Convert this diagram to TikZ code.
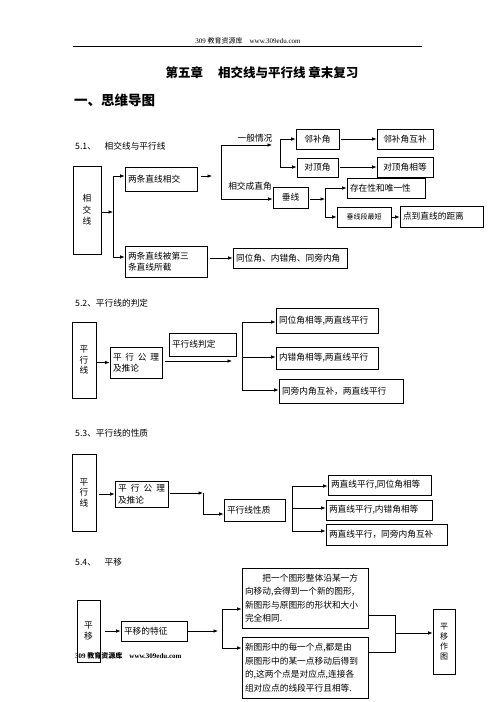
\documentclass[tikz,border=0pt]{standalone}
\usepackage{fontspec}
\setmainfont{Liberation Serif}
\newfontfamily\cjk{Noto Sans CJK SC}
\usetikzlibrary{arrows.meta}
\newcommand\mybox[7][]{%
  \pgfmathsetmacro\bxw{#5-#3}%
  \pgfmathsetmacro\bxh{#6-#4}%
  \pgfmathsetmacro\bxt{#5-#3-6}%
  \node[bx,minimum width=\bxw pt,minimum height=\bxh pt,text width=\bxt pt,#1] (#2) at ({(#3+#5)/2},{(#4+#6)/2}) {#7};}
\begin{document}
\begin{tikzpicture}[x=1pt,y=-1pt,
  bx/.style={draw,line width=0.75pt,inner xsep=3pt,inner ysep=0pt,align=left,
    font=\cjk\fontsize{8.7}{11.5}\selectfont},
  vbx/.style={align=center,font=\cjk\fontsize{8.7}{10.5}\selectfont},
  arr/.style={-{Latex[length=4.5pt,width=3.6pt]},line width=0.7pt},
  ln/.style={line width=0.7pt},
  lab/.style={font=\cjk\fontsize{8.7}{11}\selectfont,inner sep=0pt},
  hdr/.style={font=\fontsize{7}{8}\selectfont,inner sep=0pt}]
\useasboundingbox (0,0) rectangle (496,702);
\fill[white] (0,0) rectangle (496,702);

% header
\node[hdr] (hdr) at (248,41) {309 {\cjk 教育资源库}\quad www.309edu.com};
\draw[line width=0.8pt] (73,46) -- (422,46);
\node[font=\cjk\bfseries\fontsize{12.5}{14}\selectfont,inner sep=0pt] (title) at (262,73) {第五章\hspace{1.2em}相交线与平行线 章末复习};
\node[anchor=west,font=\cjk\bfseries\fontsize{13.5}{15}\selectfont,inner sep=0pt] (h1) at (74,100) {一、思维导图};

% ---------- 5.1
\node[lab,anchor=west] (s1) at (75,146) {5.1、\hspace{1em}相交线与平行线};
\mybox[vbx,font=\cjk\fontsize{8.7}{11.5}\selectfont]{A}{73}{166}{101}{254}{相\\交\\线}
\mybox{B1}{125}{167}{197}{191}{两条直线相交}
\mybox{B2}{125}{246}{207}{277}{两条直线被第三\\条直线所截}
\mybox[align=center]{C1}{296}{129}{339}{149}{邻补角}
\mybox[align=center]{C2}{297}{158}{338}{177}{对顶角}
\mybox[align=center]{D1}{377}{129}{433}{149}{邻补角互补}
\mybox[align=center]{D2}{377}{157}{433}{177}{对顶角相等}
\mybox[align=center]{E}{273}{187}{308}{208}{垂线}
\mybox{F1}{347}{178}{425}{198}{存在性和唯一性}
\mybox[align=center,font=\cjk\fontsize{7}{8}\selectfont]{F2}{337}{207}{391}{227}{垂线段最短}
\mybox{G}{400}{206}{483}{227}{点到直线的距离}
\mybox{H}{233}{248}{347}{268}{同位角、内错角、同旁内角}
\node[lab] (lg) at (255,138) {一般情况};
\node[lab] (lz) at (250,186) {相交成直角};

\coordinate (j1t) at (113,176); \coordinate (j1b) at (113,257); \coordinate (j1m) at (113,212);
\draw[arr] (A.east |- j1m) -- (j1m);
\draw[ln] (j1t) -- (j1b);
\draw[arr] (j1t) -- (B1.west |- j1t);
\draw[arr] (j1b) -- (B2.west |- j1b);
\coordinate (a1) at (212,176);
\draw[arr] (B1.east |- a1) ++(4,0) -- (a1);
\coordinate (j2t) at (221,145); \coordinate (j2b) at (221,199);
\draw[ln] (j2t) -- (j2b);
\coordinate (g1) at (272,145);
\draw[arr] (j2t) -- (g1);
\draw[arr] (j2b) -- (E.west |- j2b);
\coordinate (j3t) at (280,139); \coordinate (j3b) at (280,167);
\draw[ln] (j3t) -- (j3b);
\draw[arr] (j3t) -- (C1.west |- j3t);
\draw[arr] (j3b) -- (C2.west |- j3b);
\draw[arr,shorten <=2pt] (C1.east) -- (D1.west |- C1.east);
\draw[arr,shorten <=2pt] (C2.east |- D2.west) -- (D2.west);
\coordinate (j4) at (325,199);
\draw[arr,shorten <=2pt] (E.east |- j4) -- (j4);
\coordinate (j4t) at (325,188); \coordinate (j4b) at (325,217);
\draw[ln] (j4t) -- (j4b);
\draw[arr] (j4t) -- (F1.west |- j4t);
\draw[arr] (j4b) -- (F2.west |- j4b);
\draw[arr] (F2.east) -- (G.west |- F2.east);
\draw[arr,shorten <=3pt] (B2.east |- H.west) -- (H.west);

% ---------- 5.2
\node[lab,anchor=west] (s2) at (75,303) {5.2、平行线的判定};
\mybox[vbx]{P}{72}{322}{96}{398}{平\\行\\线}
\mybox{Q}{110}{347}{162}{378}{平\hfill 行\hfill 公\hfill 理\\及推论}
\mybox{R}{169}{333}{236}{356}{平行线判定}
\mybox{S1}{276}{308}{378}{333}{同位角相等,两直线平行}
\mybox{S2}{276}{347}{378}{369}{内错角相等,两直线平行}
\mybox{S3}{279}{379}{403}{403}{同旁内角互补，两直线平行}
\draw[arr] (P.east |- Q.west) -- (Q.west);
\coordinate (k1) at (232,361);
\draw[arr,shorten <=3pt] (Q.east |- k1) -- (k1);
\coordinate (k2t) at (242,322); \coordinate (k2m) at (242,357); \coordinate (k2b) at (242,390);
\draw[ln] (k2t) -- (k2b);
\draw[arr] (k2t) -- (S1.west |- k2t);
\draw[arr] (k2m) -- (S2.west |- k2m);
\draw[arr] (k2b) -- (S3.west |- k2b);

% ---------- 5.3
\node[lab,anchor=west] (s3) at (75,433) {5.3、平行线的性质};
\mybox[vbx]{T}{72}{454}{96}{531}{平\\行\\线}
\mybox{U}{115}{481}{168}{507}{平\hfill 行\hfill 公\hfill 理\\及推论}
\mybox{V}{224}{499}{285}{521}{平行线性质}
\mybox{W1}{328}{475}{431}{495}{两直线平行,同位角相等}
\mybox{W2}{326}{500}{432}{520}{两直线平行,内错角相等}
\mybox{W3}{326}{524}{447}{545}{两直线平行，同旁内角互补}
\draw[arr,shorten <=3pt] (T.east |- U.west) -- (U.west);
\coordinate (m1) at (203,493); \coordinate (m2) at (203,514);
\draw[arr,shorten <=2pt] (U.east |- m1) -- (m1);
\draw[arr] (m1) -- (m2) -- (V.west |- m2);
\coordinate (n1) at (292,486); \coordinate (n2) at (292,508); \coordinate (n3) at (292,531);
\draw[ln] (n1) -- (n3);
\draw[arr] (n1) -- (W1.west |- n1);
\draw[arr] (n2) -- (W2.west |- n2);
\draw[arr] (n3) -- (W3.west |- n3);

% ---------- 5.4
\node[lab,anchor=west] (s4) at (75,562) {5.4、\hspace{1em}平移};
\mybox[vbx]{X}{77}{600}{100}{662}{平\\移}
\mybox{Y}{121}{621}{187}{641}{平移的特征}
\mybox[font=\cjk\fontsize{8.7}{13.5}\selectfont]{Z1}{242}{568}{368}{628}{\hspace*{2em}把一个图形整体沿某一方\\向移动,会得到一个新的图形,\\新图形与原图形的形状和大小\\完全相同.}
\mybox[font=\cjk\fontsize{8.7}{13.5}\selectfont]{Z2}{242}{637}{368}{698}{新图形中的每一个点,都是由\\原图形中的某一点移动后得到\\的,这两个点是对应点,连接各\\组对应点的线段平行且相等.}
\mybox[vbx,font=\cjk\fontsize{8}{10}\selectfont]{AA}{433}{609}{455}{674}{平\\移\\作\\图}
\draw[arr,shorten <=5pt] (X.east |- Y.west) -- (Y.west);
\coordinate (p0) at (218,631);
\draw[arr] (Y.east |- p0) -- (p0);
\coordinate (pt) at (222,609); \coordinate (pb) at (222,648);
\draw[ln] (pt) -- (pb);
\draw[arr] (pt) -- (Z1.west |- pt);
\draw[arr] (pb) -- (Z2.west |- pb);
\coordinate (q1) at (395,615); \coordinate (q2) at (395,652); \coordinate (q0) at (395,633);
\draw[ln] (Z1.east |- q1) -- (q1) -- (q2) -- (Z2.east |- q2);
\draw[arr] (q0) -- (AA.west |- q0);

% footer
\node[hdr,anchor=west,font=\bfseries\fontsize{7}{8}\selectfont] (ft) at (75,656) {309 {\cjk 教育资源库}\quad www.309edu.com};
\end{tikzpicture}
\end{document}
